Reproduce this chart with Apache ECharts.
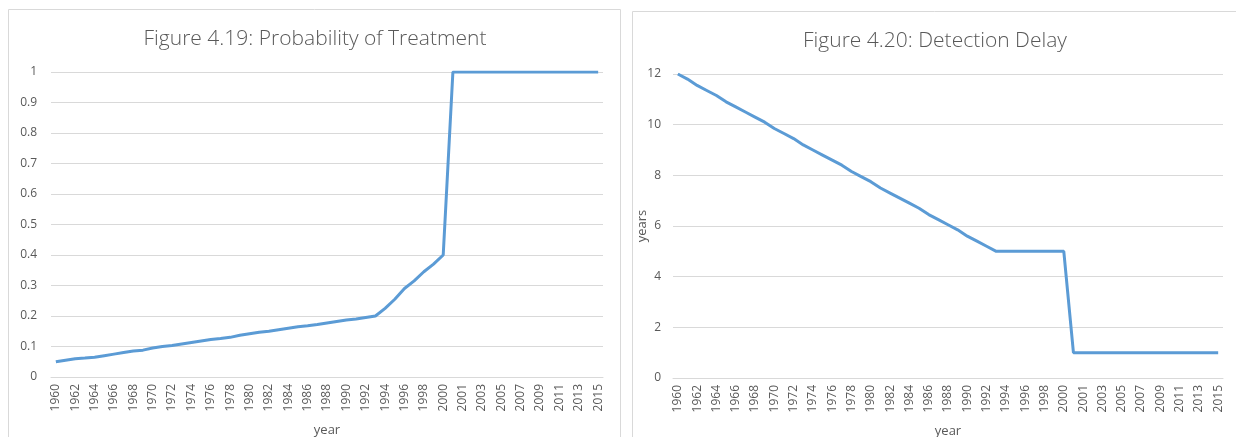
<!DOCTYPE html>
<html>
<head>
<meta charset="utf-8">
<script src="https://cdn.jsdelivr.net/npm/echarts@6/dist/echarts.min.js"></script>
<style>
  html, body { margin: 0; padding: 0; background: #ffffff; }
  #chart { width: 1236px; height: 437px; }
</style>
</head>
<body>
<div id="chart"></div>
<script>
// Year categories: 1960-2000, a step point, then 2001-2015
const yearsA = [];
for (let y = 1960; y <= 2000; y++) yearsA.push(String(y));
const stepCategory = ['2000.5'];
const yearsB = [];
for (let y = 2001; y <= 2015; y++) yearsB.push(String(y));
const categories = yearsA.concat(stepCategory, yearsB);

// Figure 4.19: probability of treatment
const treatmentEarly = [0.05, 0.055, 0.06, 0.062, 0.065, 0.07, 0.075, 0.08, 0.085, 0.088,
  0.095, 0.1, 0.103, 0.108, 0.113, 0.118, 0.123, 0.126, 0.13, 0.137,
  0.142, 0.147, 0.15, 0.155, 0.16, 0.165, 0.168, 0.172, 0.177, 0.182,
  0.187, 0.19, 0.195, 0.2];                              // 1960-1993
const treatmentLate = [0.225, 0.255, 0.29, 0.315, 0.345, 0.37, 0.4]; // 1994-2000
const treatmentAfter = [1, 1, 1, 1, 1, 1, 1, 1, 1, 1, 1, 1, 1, 1, 1, 1]; // step + 2001-2015
const treatment = treatmentEarly.concat(treatmentLate, treatmentAfter);

// Figure 4.20: detection delay (years)
const delayEarly = [12, 11.8, 11.55, 11.35, 11.15, 10.9, 10.7, 10.5, 10.3, 10.1,
  9.85, 9.65, 9.45, 9.2, 9.0, 8.8, 8.6, 8.4, 8.15, 7.95,
  7.75, 7.5, 7.3, 7.1, 6.9, 6.7, 6.45, 6.25, 6.05, 5.85,
  5.6, 5.4, 5.2, 5.0];                                   // 1960-1993
const delayPlateau = [5, 5, 5, 5, 5, 5, 5];              // 1994-2000
const delayAfter = [1, 1, 1, 1, 1, 1, 1, 1, 1, 1, 1, 1, 1, 1, 1, 1]; // step + 2001-2015
const delay = delayEarly.concat(delayPlateau, delayAfter);

const treatmentTicks = [0, 1, 0.1];   // min, max, interval
const delayTicks = [0, 12, 2];

const FONT = '"Open Sans", "Noto Sans", sans-serif';
const TEXT = '#595959';
const GRID = '#d9d9d9';
const LINE = '#5b9bd5';

const chart = echarts.init(document.getElementById('chart'), null, { renderer: 'canvas' });

function xAxis(gridIndex) {
  return {
    type: 'category', gridIndex, data: categories, boundaryGap: true,
    name: 'year', nameLocation: 'middle', nameGap: 47, nameMoveOverlap: false,
    nameTextStyle: { color: TEXT, fontFamily: FONT, fontSize: 13 },
    axisLine: { lineStyle: { color: GRID, width: 1 } },
    axisTick: { show: false },
    axisLabel: { interval: 1, rotate: 90, color: TEXT, fontFamily: FONT, fontSize: 12, margin: 7 }
  };
}

chart.setOption({
  animation: false,
  graphic: [
    { type: 'rect', shape: { x: 8.5, y: 9.5, width: 612, height: 460 },
      style: { fill: 'none', stroke: GRID, lineWidth: 1 }, silent: true },
    { type: 'rect', shape: { x: 632.5, y: 11.5, width: 640, height: 460 },
      style: { fill: 'none', stroke: GRID, lineWidth: 1 }, silent: true },
    { type: 'text', style: { x: 315, y: 39, text: 'Figure 4.19: Probability of Treatment',
      textAlign: 'center', textVerticalAlign: 'middle', fill: TEXT,
      font: '300 21px ' + FONT } },
    { type: 'text', style: { x: 935, y: 41, text: 'Figure 4.20: Detection Delay',
      textAlign: 'center', textVerticalAlign: 'middle', fill: TEXT,
      font: '300 21px ' + FONT } }
  ],
  grid: [
    { left: 51, right: 633, top: 72, bottom: 60, outerBoundsMode: 'none', containLabel: false },
    { left: 673, right: 13, top: 74, bottom: 59, outerBoundsMode: 'none', containLabel: false }
  ],
  xAxis: [xAxis(0), xAxis(1)],
  yAxis: [
    { type: 'value', gridIndex: 0, min: treatmentTicks[0], max: treatmentTicks[1], interval: treatmentTicks[2],
      axisLine: { show: false }, axisTick: { show: false },
      splitLine: { lineStyle: { color: GRID, width: 1 } },
      axisLabel: { color: TEXT, fontFamily: FONT, fontSize: 12, margin: 14 } },
    { type: 'value', gridIndex: 1, min: delayTicks[0], max: delayTicks[1], interval: delayTicks[2],
      name: 'years', nameLocation: 'middle', nameRotate: 90, nameGap: 24, nameMoveOverlap: false,
      nameTextStyle: { color: TEXT, fontFamily: FONT, fontSize: 13 },
      axisLine: { show: false }, axisTick: { show: false },
      splitLine: { lineStyle: { color: GRID, width: 1 } },
      axisLabel: { color: TEXT, fontFamily: FONT, fontSize: 12, margin: 12 } }
  ],
  series: [
    { type: 'line', xAxisIndex: 0, yAxisIndex: 0, data: treatment, symbol: 'none',
      lineStyle: { color: LINE, width: 3 } },
    { type: 'line', xAxisIndex: 1, yAxisIndex: 1, data: delay, symbol: 'none',
      lineStyle: { color: LINE, width: 3 } }
  ]
});
</script>
</body>
</html>
